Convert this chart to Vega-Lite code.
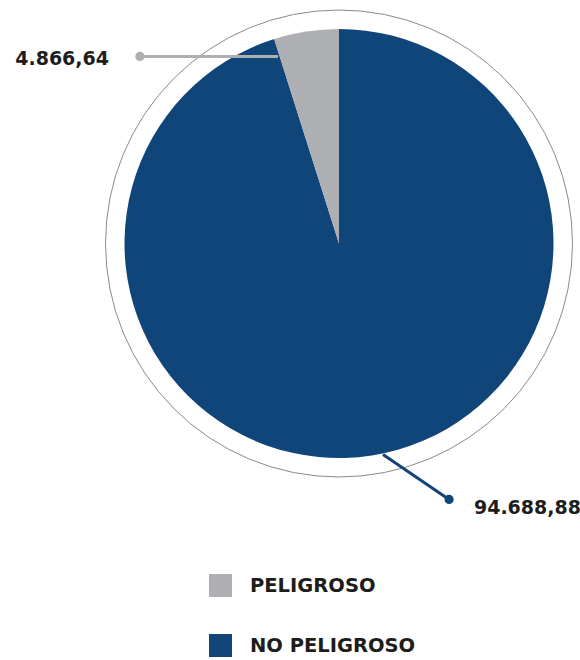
{
  "$schema": "https://vega.github.io/schema/vega-lite/v6.json",
  "autosize": "none",
  "width": 472,
  "height": 472,
  "padding": {"left": 103, "top": 7.5, "right": 5, "bottom": 180.5},
  "data": {
    "values": [
      {"categoria": "NO PELIGROSO", "valor": 94688.88},
      {"categoria": "PELIGROSO", "valor": 4866.64}
    ]
  },
  "layer": [
    {
      "data": {"values": [{"anillo": "exterior"}]},
      "mark": {"type": "arc", "theta": 0, "theta2": 6.2832, "radius": 233.5, "filled": false, "stroke": "#8a8a8a", "strokeWidth": 1},
      "encoding": {}
    },
    {
      "mark": {"type": "arc", "radius": 214.5},
      "encoding": {
        "theta": {"field": "valor", "type": "quantitative", "stack": true},
        "order": {"field": "categoria", "sort": "ascending"},
        "color": {
          "field": "categoria",
          "type": "nominal",
          "scale": {"domain": ["PELIGROSO", "NO PELIGROSO"], "range": ["#aeafb3", "#10457a"]},
          "legend": {
            "title": null,
            "orient": "none",
            "legendX": 106,
            "legendY": 566.5,
            "direction": "vertical",
            "symbolType": "square",
            "symbolSize": 529,
            "symbolStrokeWidth": 0,
            "labelFont": "DejaVu Sans",
            "labelFontWeight": "bold",
            "labelFontSize": 19.5,
            "labelColor": "#1d1d1b",
            "labelBaseline": "middle",
            "labelLimit": 300,
            "labelOffset": 18,
            "rowPadding": 37,
            "padding": 0
          }
        }
      }
    },
    {
      "transform": [{"filter": "datum.categoria === 'PELIGROSO'"}],
      "mark": {"type": "rule", "color": "#aeafb3", "strokeWidth": 3},
      "encoding": {
        "x": {"datum": -0.928, "type": "quantitative", "scale": {"domain": [-1.1, 1.1], "nice": false, "zero": false}, "axis": null},
        "y": {"datum": 0.872, "type": "quantitative", "scale": {"domain": [-1.1, 1.1], "nice": false, "zero": false}, "axis": null},
        "x2": {"datum": -0.284},
        "y2": {"datum": 0.872}
      }
    },
    {
      "transform": [{"filter": "datum.categoria === 'PELIGROSO'"}],
      "mark": {"type": "point", "filled": true, "color": "#aeafb3", "size": 85, "opacity": 1},
      "encoding": {
        "x": {"datum": -0.928, "type": "quantitative"},
        "y": {"datum": 0.872, "type": "quantitative"}
      }
    },
    {
      "transform": [{"filter": "datum.categoria === 'PELIGROSO'"}],
      "mark": {"type": "text", "align": "right", "baseline": "alphabetic", "font": "DejaVu Sans", "fontWeight": "bold", "fontSize": 19, "color": "#1d1d1b"},
      "encoding": {
        "x": {"datum": -1.072, "type": "quantitative"},
        "y": {"datum": 0.83, "type": "quantitative"},
        "text": {"field": "valor", "type": "quantitative", "format": ",.2f"}
      }
    },
    {
      "transform": [{"filter": "datum.categoria === 'NO PELIGROSO'"}],
      "mark": {"type": "rule", "color": "#10457a", "strokeWidth": 3},
      "encoding": {
        "x": {"datum": 0.205, "type": "quantitative"},
        "y": {"datum": -0.984, "type": "quantitative"},
        "x2": {"datum": 0.513},
        "y2": {"datum": -1.193}
      }
    },
    {
      "transform": [{"filter": "datum.categoria === 'NO PELIGROSO'"}],
      "mark": {"type": "point", "filled": true, "color": "#10457a", "size": 85, "opacity": 1},
      "encoding": {
        "x": {"datum": 0.513, "type": "quantitative"},
        "y": {"datum": -1.193, "type": "quantitative"}
      }
    },
    {
      "transform": [{"filter": "datum.categoria === 'NO PELIGROSO'"}],
      "mark": {"type": "text", "align": "left", "baseline": "alphabetic", "font": "DejaVu Sans", "fontWeight": "bold", "fontSize": 19, "color": "#1d1d1b"},
      "encoding": {
        "x": {"datum": 0.629, "type": "quantitative"},
        "y": {"datum": -1.259, "type": "quantitative"},
        "text": {"field": "valor", "type": "quantitative", "format": ",.2f"}
      }
    }
  ],
  "config": {
    "view": {"stroke": null},
    "locale": {
      "number": {"decimal": ",", "thousands": ".", "grouping": [3], "currency": ["", " €"]}
    }
  }
}
